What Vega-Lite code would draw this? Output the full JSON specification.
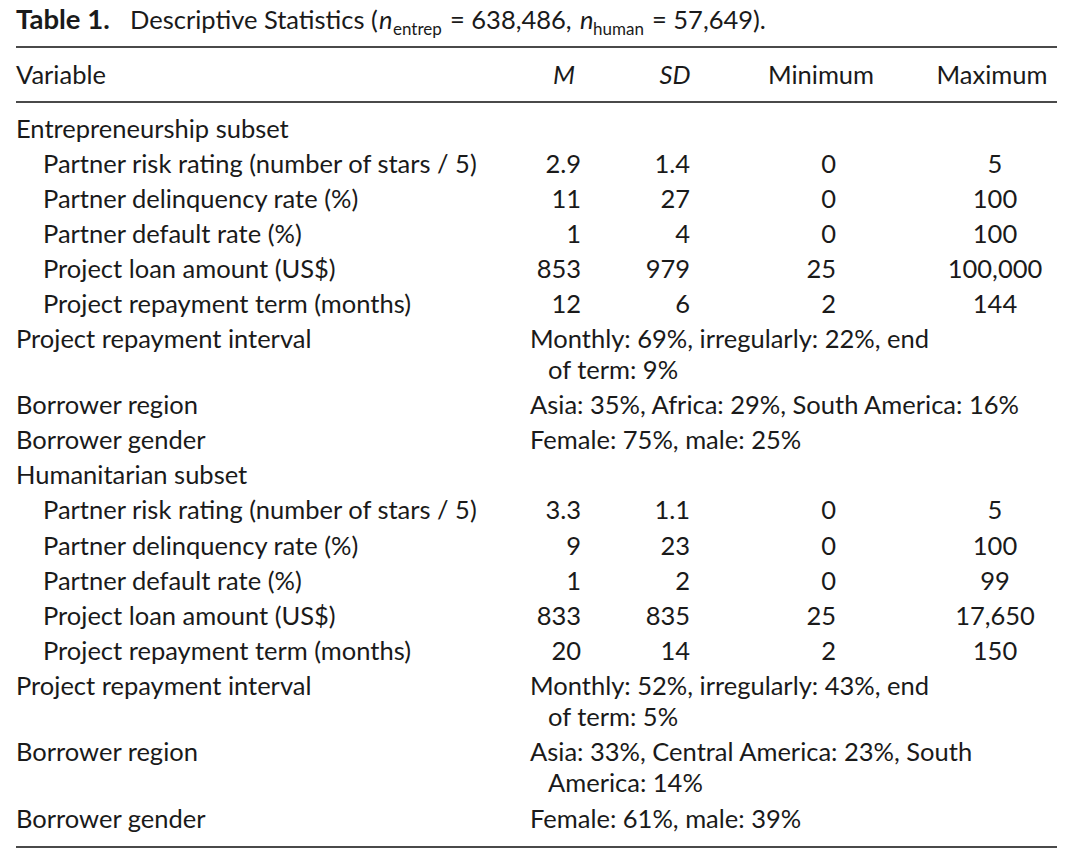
{
  "$schema": "https://vega.github.io/schema/vega-lite/v6.json",
  "width": 1041,
  "height": 864,
  "autosize": {"type": "none"},
  "padding": {"left": 16, "top": 0, "right": 23, "bottom": 0},
  "background": "#ffffff",
  "config": {
    "view": {"stroke": null},
    "axis": {"disable": true},
    "text": {"font": "Lato", "fontSize": 25.5, "color": "#1a1a1a", "baseline": "middle"}
  },
  "datasets": {
    "title": [
      {"line": -2, "part": 0, "text": "Table 1."},
      {"line": -2, "part": 1, "text": "Descriptive Statistics ("},
      {"line": -2, "part": 2, "text": "n"},
      {"line": -2, "part": 3, "text": "entrep"},
      {"line": -2, "part": 4, "text": "= 638,486,"},
      {"line": -2, "part": 5, "text": "n"},
      {"line": -2, "part": 6, "text": "human"},
      {"line": -2, "part": 7, "text": "= 57,649)."}
    ],
    "header": [
      {"line": -1, "col": 0, "text": "Variable"},
      {"line": -1, "col": 1, "text": "M"},
      {"line": -1, "col": 2, "text": "SD"},
      {"line": -1, "col": 3, "text": "Minimum"},
      {"line": -1, "col": 4, "text": "Maximum"}
    ],
    "rules": [
      {"line": -1.5},
      {"line": -0.5},
      {"line": 20.5}
    ],
    "cells": [
      {"line": 0, "col": 0, "level": 0, "text": "Entrepreneurship subset"},
      {"line": 1, "col": 0, "level": 1, "text": "Partner risk rating (number of stars / 5)"},
      {"line": 1, "col": 1, "text": "2.9"},
      {"line": 1, "col": 2, "text": "1.4"},
      {"line": 1, "col": 3, "text": "0"},
      {"line": 1, "col": 4, "text": "5"},
      {"line": 2, "col": 0, "level": 1, "text": "Partner delinquency rate (%)"},
      {"line": 2, "col": 1, "text": "11"},
      {"line": 2, "col": 2, "text": "27"},
      {"line": 2, "col": 3, "text": "0"},
      {"line": 2, "col": 4, "text": "100"},
      {"line": 3, "col": 0, "level": 1, "text": "Partner default rate (%)"},
      {"line": 3, "col": 1, "text": "1"},
      {"line": 3, "col": 2, "text": "4"},
      {"line": 3, "col": 3, "text": "0"},
      {"line": 3, "col": 4, "text": "100"},
      {"line": 4, "col": 0, "level": 1, "text": "Project loan amount (US$)"},
      {"line": 4, "col": 1, "text": "853"},
      {"line": 4, "col": 2, "text": "979"},
      {"line": 4, "col": 3, "text": "25"},
      {"line": 4, "col": 4, "text": "100,000"},
      {"line": 5, "col": 0, "level": 1, "text": "Project repayment term (months)"},
      {"line": 5, "col": 1, "text": "12"},
      {"line": 5, "col": 2, "text": "6"},
      {"line": 5, "col": 3, "text": "2"},
      {"line": 5, "col": 4, "text": "144"},
      {"line": 6, "col": 0, "level": 0, "text": "Project repayment interval"},
      {"line": 6, "col": 1, "span": 4, "level": 0, "text": "Monthly: 69%, irregularly: 22%, end"},
      {"line": 7, "col": 1, "span": 4, "level": 1, "text": "of term: 9%"},
      {"line": 8, "col": 0, "level": 0, "text": "Borrower region"},
      {"line": 8, "col": 1, "span": 4, "level": 0, "text": "Asia: 35%, Africa: 29%, South America: 16%"},
      {"line": 9, "col": 0, "level": 0, "text": "Borrower gender"},
      {"line": 9, "col": 1, "span": 4, "level": 0, "text": "Female: 75%, male: 25%"},
      {"line": 10, "col": 0, "level": 0, "text": "Humanitarian subset"},
      {"line": 11, "col": 0, "level": 1, "text": "Partner risk rating (number of stars / 5)"},
      {"line": 11, "col": 1, "text": "3.3"},
      {"line": 11, "col": 2, "text": "1.1"},
      {"line": 11, "col": 3, "text": "0"},
      {"line": 11, "col": 4, "text": "5"},
      {"line": 12, "col": 0, "level": 1, "text": "Partner delinquency rate (%)"},
      {"line": 12, "col": 1, "text": "9"},
      {"line": 12, "col": 2, "text": "23"},
      {"line": 12, "col": 3, "text": "0"},
      {"line": 12, "col": 4, "text": "100"},
      {"line": 13, "col": 0, "level": 1, "text": "Partner default rate (%)"},
      {"line": 13, "col": 1, "text": "1"},
      {"line": 13, "col": 2, "text": "2"},
      {"line": 13, "col": 3, "text": "0"},
      {"line": 13, "col": 4, "text": "99"},
      {"line": 14, "col": 0, "level": 1, "text": "Project loan amount (US$)"},
      {"line": 14, "col": 1, "text": "833"},
      {"line": 14, "col": 2, "text": "835"},
      {"line": 14, "col": 3, "text": "25"},
      {"line": 14, "col": 4, "text": "17,650"},
      {"line": 15, "col": 0, "level": 1, "text": "Project repayment term (months)"},
      {"line": 15, "col": 1, "text": "20"},
      {"line": 15, "col": 2, "text": "14"},
      {"line": 15, "col": 3, "text": "2"},
      {"line": 15, "col": 4, "text": "150"},
      {"line": 16, "col": 0, "level": 0, "text": "Project repayment interval"},
      {"line": 16, "col": 1, "span": 4, "level": 0, "text": "Monthly: 52%, irregularly: 43%, end"},
      {"line": 17, "col": 1, "span": 4, "level": 1, "text": "of term: 5%"},
      {"line": 18, "col": 0, "level": 0, "text": "Borrower region"},
      {"line": 18, "col": 1, "span": 4, "level": 0, "text": "Asia: 33%, Central America: 23%, South"},
      {"line": 19, "col": 1, "span": 4, "level": 1, "text": "America: 14%"},
      {"line": 20, "col": 0, "level": 0, "text": "Borrower gender"},
      {"line": 20, "col": 1, "span": 4, "level": 0, "text": "Female: 61%, male: 39%"}
    ]
  },
  "encoding": {
    "y": {
      "field": "line",
      "type": "quantitative",
      "axis": null,
      "scale": {
        "domain": [-2, -1.5, -1, -0.5, 0, 6, 7, 16, 17, 18, 19, 20, 20.5],
        "range": [21, 47, 76, 102, 130, 340, 371, 687, 718, 753, 784, 820, 847],
        "nice": false,
        "zero": false
      }
    }
  },
  "resolve": {"scale": {"x": "independent"}},
  "layer": [
    {
      "data": {"name": "title"},
      "encoding": {
        "x": {
          "field": "part",
          "type": "quantitative",
          "axis": null,
          "scale": {
            "domain": [0, 1, 2, 3, 4, 5, 6, 7],
            "range": [0, 114, 363, 377, 434, 564, 577, 636],
            "nice": false,
            "zero": false
          }
        },
        "text": {"field": "text"}
      },
      "layer": [
        {"transform": [{"filter": "datum.part == 0"}], "mark": {"type": "text", "align": "left", "fontWeight": "bold", "fontSize": 27.5}},
        {"transform": [{"filter": "datum.part == 1 || datum.part == 4 || datum.part == 7"}], "mark": {"type": "text", "align": "left"}},
        {"transform": [{"filter": "datum.part == 2 || datum.part == 5"}], "mark": {"type": "text", "align": "left", "fontStyle": "italic"}},
        {"transform": [{"filter": "datum.part == 3 || datum.part == 6"}], "mark": {"type": "text", "align": "left", "fontSize": 17, "dy": 9}}
      ]
    },
    {
      "data": {"name": "header"},
      "encoding": {
        "x": {
          "field": "col",
          "type": "quantitative",
          "axis": null,
          "scale": {
            "domain": [0, 1, 2, 3, 4],
            "range": [0, 548, 659, 805, 976],
            "nice": false,
            "zero": false
          }
        },
        "text": {"field": "text"}
      },
      "layer": [
        {"transform": [{"filter": "datum.col == 0"}], "mark": {"type": "text", "align": "left"}},
        {"transform": [{"filter": "datum.col == 1 || datum.col == 2"}], "mark": {"type": "text", "align": "center", "fontStyle": "italic"}},
        {"transform": [{"filter": "datum.col >= 3"}], "mark": {"type": "text", "align": "center"}}
      ]
    },
    {
      "data": {"name": "cells"},
      "transform": [{"filter": "datum.col == 0"}],
      "mark": {"type": "text", "align": "left"},
      "encoding": {
        "x": {
          "field": "level",
          "type": "quantitative",
          "axis": null,
          "scale": {"domain": [0, 1], "range": [0, 27], "nice": false, "zero": false}
        },
        "text": {"field": "text"}
      }
    },
    {
      "data": {"name": "cells"},
      "transform": [{"filter": "datum.span > 1"}],
      "mark": {"type": "text", "align": "left"},
      "encoding": {
        "x": {
          "field": "level",
          "type": "quantitative",
          "axis": null,
          "scale": {"domain": [0, 1], "range": [514, 532], "nice": false, "zero": false}
        },
        "text": {"field": "text"}
      }
    },
    {
      "data": {"name": "cells"},
      "transform": [{"filter": "datum.col >= 1 && !(datum.span > 1)"}],
      "encoding": {
        "x": {
          "field": "col",
          "type": "quantitative",
          "axis": null,
          "scale": {
            "domain": [1, 2, 3, 4],
            "range": [565, 674, 820, 979],
            "nice": false,
            "zero": false
          }
        },
        "text": {"field": "text"}
      },
      "layer": [
        {"transform": [{"filter": "datum.col <= 3"}], "mark": {"type": "text", "align": "right"}},
        {"transform": [{"filter": "datum.col == 4"}], "mark": {"type": "text", "align": "center"}}
      ]
    },
    {
      "data": {"name": "rules"},
      "mark": {"type": "rule", "stroke": "#4a4a4a", "strokeWidth": 2},
      "encoding": {}
    }
  ]
}
